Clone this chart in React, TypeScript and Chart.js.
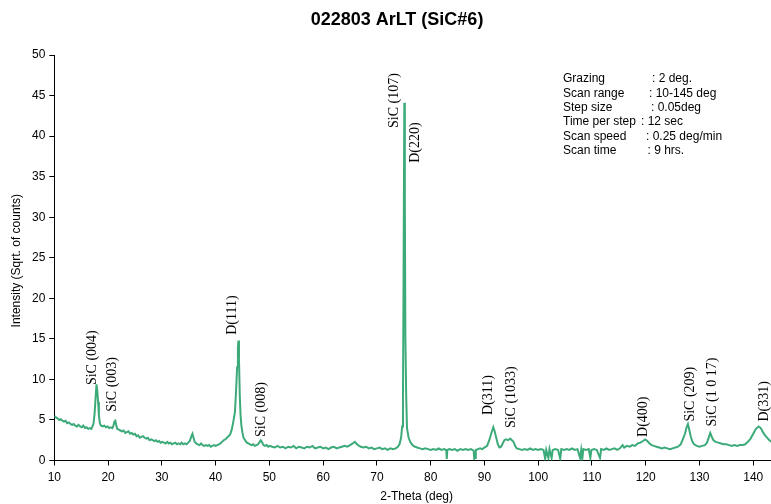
import React, { useEffect, useRef } from 'react';
import { Chart, registerables } from 'chart.js';

Chart.register(...registerables);

const chartTitle = '022803 ArLT (SiC#6)';
const xAxisTitle = '2-Theta (deg)';
const yAxisTitle = 'Intensity (Sqrt. of counts)';

const xTickValues = [10, 20, 30, 40, 50, 60, 70, 80, 90, 100, 110, 120, 130, 140];

const twoTheta = [
  10.0, 10.3, 10.6, 10.9, 11.2, 11.5, 11.8, 12.1, 12.4, 12.7, 13.0, 13.3, 13.6, 13.9, 14.2, 14.5, 14.8, 15.1, 15.4, 15.7,
  16.0, 16.3, 16.6, 16.9, 17.1, 17.3, 17.5, 17.7, 17.85, 18.0, 18.15, 18.3, 18.5, 18.7, 19.0, 19.3, 19.6, 19.9, 20.2, 20.5,
  20.8, 21.0, 21.2, 21.35, 21.5, 21.7, 22.0, 22.3, 22.6, 22.9, 23.2, 23.5, 23.8, 24.1, 24.4, 24.7, 25.0, 25.3, 25.6, 25.9,
  26.2, 26.5, 26.8, 27.1, 27.4, 27.7, 28.0, 28.3, 28.6, 28.9, 29.2, 29.5, 29.8, 30.1, 30.4, 30.7, 31.0, 31.3, 31.6, 31.9,
  32.2, 32.5, 32.8, 33.1, 33.4, 33.7, 34.0, 34.3, 34.6, 34.9, 35.2, 35.5, 35.7, 35.9, 36.1, 36.4, 36.7, 37.0, 37.3, 37.6,
  37.9, 38.2, 38.5, 38.8, 39.1, 39.4, 39.7, 40.0, 40.3, 40.6, 40.9, 41.2, 41.5, 41.8, 42.1, 42.4, 42.7, 43.0, 43.3, 43.6,
  43.8, 44.0, 44.15, 44.25, 44.35, 44.5, 44.65, 44.8, 45.0, 45.2, 45.5, 45.8, 46.1, 46.4, 46.7, 47.0, 47.3, 47.6, 47.9, 48.2,
  48.4, 48.6, 48.9, 49.2, 49.5, 49.8, 50.1, 50.5, 51.0, 51.5, 52.0, 52.5, 53.0, 53.5, 54.0, 54.5, 55.0, 55.5, 56.0, 56.5,
  57.0, 57.5, 58.0, 58.5, 59.0, 59.5, 60.0, 60.5, 61.0, 61.5, 62.0, 62.5, 63.0, 63.5, 64.0, 64.5, 65.0, 65.5, 65.9, 66.3,
  66.7, 67.0, 67.5, 68.0, 68.5, 69.0, 69.5, 70.0, 70.5, 71.0, 71.5, 72.0, 72.5, 73.0, 73.5, 73.9, 74.2, 74.5, 74.7, 74.85,
  74.95, 75.1, 75.2, 75.3, 75.45, 75.6, 75.9, 76.2, 76.5, 76.8, 77.1, 77.5, 78.0, 78.5, 79.0, 79.5, 80.0, 80.5, 81.0, 81.5,
  82.0, 82.5, 82.9, 83.0, 83.1, 83.5, 84.0, 84.5, 85.0, 85.5, 86.0, 86.5, 87.0, 87.5, 88.0, 88.1, 88.3, 88.4, 88.8, 89.2,
  89.6, 90.0, 90.5, 90.9, 91.3, 91.65, 91.9, 92.2, 92.5, 92.8, 93.1, 93.4, 93.7, 94.0, 94.4, 94.8, 95.1, 95.4, 95.7, 96.0,
  96.5, 97.0, 97.5, 98.0, 98.5, 99.0, 99.5, 100.0, 100.5, 101.0, 101.3, 101.5, 101.9, 102.1, 102.5, 102.7, 103.2, 103.7, 104.1, 104.3,
  104.8, 105.3, 105.8, 106.3, 106.8, 107.3, 107.8, 108.0, 108.2, 108.4, 108.9, 109.4, 109.7, 109.9, 110.4, 110.9, 111.5, 111.7, 112.2, 112.7,
  113.2, 113.7, 114.2, 114.7, 115.2, 115.7, 116.0, 116.5, 117.0, 117.5, 118.0, 118.5, 119.0, 119.5, 119.9, 120.3, 120.7, 121.1, 121.5, 122.0,
  122.5, 123.0, 123.5, 124.0, 124.5, 125.0, 125.5, 126.0, 126.5, 126.9, 127.3, 127.6, 127.85, 128.1, 128.4, 128.7, 129.0, 129.5, 130.0, 130.5,
  131.0, 131.4, 131.8, 132.0, 132.3, 132.6, 133.0, 133.5, 134.0, 134.5, 135.0, 135.5, 136.0, 136.5, 137.0, 137.5, 138.0, 138.5, 139.0, 139.5,
  140.0, 140.5, 141.0, 141.4, 141.8, 142.2, 142.6, 143.0, 143.4,
];

const intensity = [
  5.5, 5.3, 5.2, 5.0, 5.1, 4.9, 4.8, 4.9, 4.6, 4.7, 4.5, 4.4, 4.5, 4.3, 4.2, 4.4, 4.2, 4.1, 4.3, 4.0,
  4.1, 3.9, 4.0, 3.9, 4.2, 4.6, 5.8, 8.0, 9.4, 8.6, 7.2, 5.5, 4.5, 4.3, 4.2, 4.3, 4.1, 4.2, 4.0, 4.1,
  4.0, 4.3, 4.8, 4.9, 4.4, 3.9, 3.8, 3.7, 3.6, 3.7, 3.4, 3.5, 3.6, 3.3, 3.4, 3.2, 3.3, 3.0, 3.1, 2.8,
  2.9, 3.0, 2.8, 2.7, 2.8, 2.5, 2.6, 2.5, 2.4, 2.5, 2.3, 2.4, 2.2, 2.3, 2.2, 2.1, 2.3, 2.1, 2.2, 2.0,
  2.1, 2.2, 2.0, 2.1, 2.0, 2.2, 2.0, 2.1, 2.0, 2.2, 2.4, 3.0, 3.3, 2.8, 2.3, 2.1, 2.0, 1.9, 2.1, 1.9,
  1.8, 1.9, 1.8, 1.9, 1.7, 1.8, 1.9, 1.8, 1.9, 2.0, 2.1, 2.3, 2.5, 2.6, 2.8, 3.0, 3.2, 3.8, 4.8, 6.0,
  8.5, 11.5, 14.0, 14.8, 12.5, 8.0, 5.5, 4.3, 3.4, 2.8, 2.5, 2.2, 2.1, 2.0, 1.9, 2.0, 1.8, 1.9, 2.0, 2.3,
  2.5, 2.3, 1.9, 1.8, 1.9, 1.7, 1.8, 1.7, 1.6, 1.8, 1.6, 1.7, 1.5, 1.7, 1.6, 1.8, 1.5, 1.7, 1.6, 1.5,
  1.7, 1.6, 1.8, 1.5, 1.6, 1.7, 1.5, 1.6, 1.4, 1.6, 1.7, 1.5, 1.6, 1.7, 1.8, 1.7, 1.9, 2.1, 2.3, 2.0,
  1.8, 1.7, 1.6, 1.7, 1.5, 1.6, 1.4, 1.5, 1.6, 1.4, 1.5, 1.3, 1.5, 1.4, 1.5, 1.7, 2.0, 2.8, 4.2, 8.0,
  21.0, 44.1, 31.7, 15.0, 8.0, 4.0, 2.8, 2.3, 2.0, 1.8, 1.7, 1.6, 1.5, 1.4, 1.5, 1.4, 1.3, 1.4, 1.3, 1.5,
  1.3, 1.4, 1.3, 0.2, 1.3, 1.4, 1.3, 1.4, 1.2, 1.4, 1.3, 1.4, 1.3, 1.4, 1.2, 0.2, 0.3, 1.3, 1.4, 1.5,
  1.4, 1.6, 1.8, 2.5, 3.4, 4.1, 3.6, 2.8, 2.0, 1.6, 1.7, 2.1, 2.5, 2.6, 2.5, 2.7, 2.5, 2.3, 1.8, 1.5,
  1.4, 1.3, 1.4, 1.3, 1.5, 1.3, 1.4, 1.3, 1.4, 1.3, 0.2, 1.3, 0.3, 1.4, 0.3, 1.3, 1.4, 1.3, 0.2, 1.4,
  1.3, 1.4, 1.3, 1.5, 1.3, 1.4, 0.3, 1.3, 0.2, 1.4, 1.3, 1.4, 0.3, 1.3, 1.4, 1.3, 0.3, 1.4, 1.3, 1.5,
  1.3, 1.4, 1.5, 1.3, 1.5, 1.9, 1.6, 1.8, 1.7, 1.9, 1.8, 2.1, 2.2, 2.4, 2.6, 2.4, 2.1, 1.9, 1.8, 1.7,
  1.6, 1.5, 1.6, 1.5, 1.4, 1.5, 1.6, 1.7, 2.0, 2.6, 3.3, 4.1, 4.5, 3.8, 2.9, 2.3, 2.0, 1.8, 1.7, 1.8,
  1.9, 2.2, 3.0, 3.4, 2.9, 2.5, 2.3, 2.2, 2.1, 2.0, 2.0, 1.9, 1.8, 1.9, 1.8, 1.9, 1.9, 2.0, 2.3, 2.7,
  3.3, 3.9, 4.2, 4.0, 3.5, 3.1, 2.8, 2.5, 2.3,
];

const peakLabels = [
  'SiC (004)', 'SiC (003)', 'D(111)', 'SiC (008)', 'SiC (107)', 'D(220)',
  'D(311)', 'SiC (1033)', 'D(400)', 'SiC (209)', 'SiC (1 0 17)', 'D(331)',
];
const peakLabelAngle = [17.1, 20.7, 43.1, 48.5, 73.2, 77.1, 90.8, 95.0, 119.6, 128.3, 132.3, 142.0];
const peakLabelBase = [9.3, 6.0, 15.5, 2.9, 41.0, 36.7, 5.6, 4.0, 2.9, 4.8, 4.2, 4.8];

const infoLabels = ['Grazing', 'Scan range', 'Step size', 'Time per step', 'Scan speed', 'Scan time'];
const infoValues = [': 2 deg.', ': 10-145 deg', ': 0.05deg', ': 12 sec', ': 0.25 deg/min', ': 9 hrs.'];

const xMin = 10;
const xMax = 143.3;
const yMin = 0;
const yMax = 50;

const SANS = '"Liberation Sans", Arial, Helvetica, sans-serif';
const SERIF = '"Liberation Serif", "Times New Roman", Times, serif';

const overlayPlugin = {
  id: 'overlay',
  afterDatasetsDraw(chart: any) {
    const ctx = chart.ctx as CanvasRenderingContext2D;
    const xs = chart.scales.x;
    const ys = chart.scales.y;
    const area = chart.chartArea;
    ctx.save();
    ctx.fillStyle = '#000';

    ctx.font = `14px ${SERIF}`;
    ctx.textAlign = 'left';
    ctx.textBaseline = 'middle';
    peakLabels.forEach((t, i) => {
      const px = xs.getPixelForValue(peakLabelAngle[i]);
      const py = ys.getPixelForValue(peakLabelBase[i]);
      ctx.save();
      ctx.translate(px, py);
      ctx.rotate(-Math.PI / 2);
      ctx.fillText(t, 0, 0);
      ctx.restore();
    });

    ctx.font = `bold 18px ${SANS}`;
    ctx.textAlign = 'center';
    ctx.textBaseline = 'middle';
    ctx.fillText(chartTitle, 397, 20);

    ctx.font = `12px ${SANS}`;
    ctx.textAlign = 'left';
    const valueX = [652, 649, 651, 641, 646, 647.5];
    infoLabels.forEach((t, i) => {
      const y = 79 + i * 14.3;
      ctx.fillText(t, 563, y);
      ctx.fillText(infoValues[i], valueX[i], y);
    });

    ctx.textAlign = 'center';
    ctx.fillText(xAxisTitle, (area.left + area.right) / 2 + 4, 497);
    ctx.save();
    ctx.translate(17, (area.top + area.bottom) / 2 + 3);
    ctx.rotate(-Math.PI / 2);
    ctx.fillText(yAxisTitle, 0, 0);
    ctx.restore();

    ctx.restore();
  },
};

export default function App() {
  const canvasRef = useRef<HTMLCanvasElement | null>(null);

  useEffect(() => {
    const canvas = canvasRef.current;
    if (!canvas) return;
    const points = twoTheta.map((x, i) => ({ x, y: intensity[i] }));
    const chart = new Chart(canvas, {
      type: 'line',
      data: {
        datasets: [
          {
            data: points,
            borderColor: '#3DAA7A',
            borderWidth: 2,
            pointRadius: 0,
            tension: 0,
            fill: false,
          },
        ],
      },
      options: {
        responsive: false,
        animation: false,
        devicePixelRatio: 1,
        layout: { padding: { top: 55, left: 0, right: 0, bottom: 0 } },
        plugins: {
          legend: { display: false },
          tooltip: { enabled: false },
          title: { display: false },
        },
        scales: {
          x: {
            type: 'linear',
            min: xMin,
            max: xMax,
            afterBuildTicks: (scale: any) => {
              scale.ticks = xTickValues.map((v) => ({ value: v }));
            },
            afterFit: (scale: any) => {
              scale.height = 43.5;
            },
            ticks: {
              color: '#000',
              font: { family: SANS, size: 12 },
              padding: 5,
              maxRotation: 0,
              autoSkip: false,
            },
            grid: {
              drawOnChartArea: false,
              drawTicks: true,
              tickLength: 5,
              color: '#000',
            },
            border: { display: true, color: '#000', width: 1 },
          },
          y: {
            type: 'linear',
            min: yMin,
            max: yMax,
            afterFit: (scale: any) => {
              scale.width = 54.3;
            },
            ticks: {
              stepSize: 5,
              color: '#000',
              font: { family: SANS, size: 12 },
              padding: 4,
            },
            grid: {
              drawOnChartArea: false,
              drawTicks: true,
              tickLength: 5,
              color: '#000',
            },
            border: { display: true, color: '#000', width: 1 },
          },
        },
      },
      plugins: [overlayPlugin],
    });
    return () => {
      chart.destroy();
    };
  }, []);

  return (
    <div style={{ position: 'fixed', left: 0, top: 0, width: 771, height: 504, background: '#fff' }}>
      <canvas ref={canvasRef} width={771} height={504} style={{ display: 'block', width: 771, height: 504 }} />
    </div>
  );
}
